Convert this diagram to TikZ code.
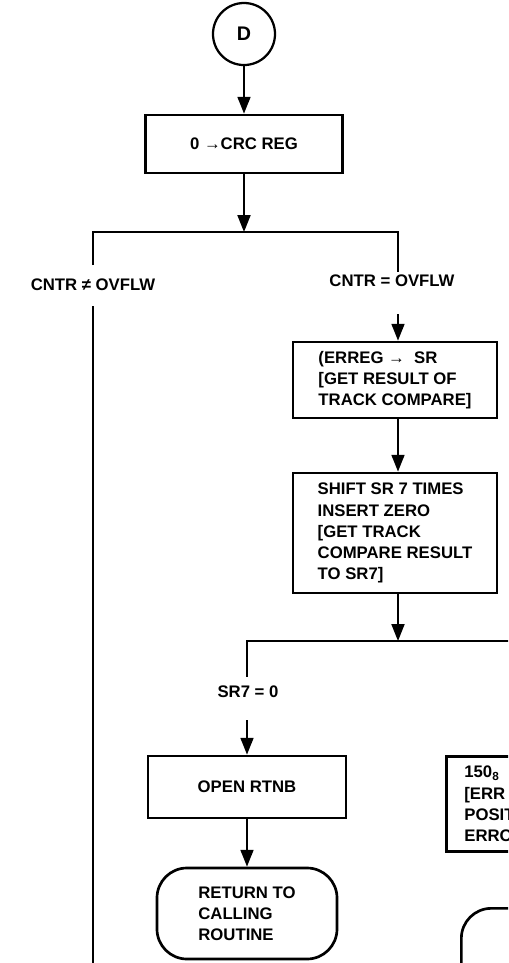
\documentclass[tikz,border=0pt]{standalone}
\usepackage{fontspec}
\setmainfont{Liberation Sans}
\usetikzlibrary{arrows.meta}

\begin{document}
\begin{tikzpicture}[
    x=0.025cm, y=-0.025cm,
    every node/.style={font=\bfseries\fontsize{11.9}{15}\selectfont},
    box/.style={draw, line width=1.9pt, align=left, inner sep=0pt},
    term/.style={box, rounded corners=0.75cm},
    conn/.style={draw, circle, line width=1.6pt, minimum size=1.55cm, inner sep=0pt,
        font=\bfseries\fontsize{14}{16}\selectfont},
    cond/.style={inner sep=0pt, text height=8.5pt, text depth=0pt},
    flow/.style={-{Triangle[length=4.2mm, width=3.2mm]}, line width=1.6pt},
    branch/.style={line width=1.6pt}
]
\useasboundingbox (0,0) rectangle (508,963);
\clip (0,0) rectangle (508,963);

\node[conn] (d) at (244,34) {D};
\node[box, minimum width=4.925cm, minimum height=1.45cm] (crc) at (244,144) {0 →CRC REG};

\coordinate (fork1) at (244,232);
\coordinate (fork1r) at (398,232);
\node[cond] (ne) at (93,284.5) {CNTR ≠ OVFLW};
\node[cond] (eq) at (392,281) {CNTR = OVFLW};
\coordinate (netop) at (93,265);
\coordinate (nebot) at (93,306);
\coordinate (leftend) at (93,990);
\coordinate (eqtop) at (398,272);
\coordinate (eqbot) at (398,314);

\node[box, minimum width=5.1cm, minimum height=1.9cm] (erreg) at (395,380)
    {(ERREG → \ SR\\{[}GET RESULT OF\\TRACK COMPARE]};
\node[box, minimum width=5.1cm, minimum height=3cm] (shift) at (395,533)
    {SHIFT SR 7 TIMES\\INSERT ZERO\\{[}GET TRACK\\COMPARE RESULT\\TO SR7]};

\coordinate (fork2) at (398,641);
\coordinate (fork2r) at (540,641);
\node[cond] (sr) at (248,692) {SR7 = 0};
\coordinate (srtop) at (247,677);
\coordinate (srbot) at (247,720);

\node[box, minimum width=4.95cm, minimum height=1.55cm] (rtnb) at (247,787) {OPEN RTNB};
\node[term, minimum width=4.5cm, minimum height=2.275cm] (ret) at (247,913.5)
    {RETURN TO\\CALLING\\ROUTINE};

\node[box, anchor=north west, minimum height=2.375cm, text width=4cm, inner xsep=0.45cm]
    (errpos) at (445,755) {150\textsubscript{8}\\{[}ERR\\POSIT\\ERRO};
\node[term, anchor=north west, minimum width=4.5cm, minimum height=2.275cm] (errexit) at (460,907) {};

% connectors
\draw[flow] (d) -- (crc);
\draw[flow] (crc) -- (fork1);
\draw[branch] (netop) -- (netop |- fork1) -- (fork1r) -- (eqtop);
\draw[branch] (nebot) -- (leftend);
\draw[flow] (eqbot) -- (eqbot |- erreg.north);
\draw[flow] (erreg.south -| eqbot) -- (eqbot |- shift.north);
\draw[flow] (shift.south -| fork2) -- (fork2);
\draw[branch] (fork2r) -- (srtop |- fork2) -- (srtop);
\draw[flow] (srbot) -- (rtnb);
\draw[flow] (rtnb) -- (ret);
\end{tikzpicture}
\end{document}
